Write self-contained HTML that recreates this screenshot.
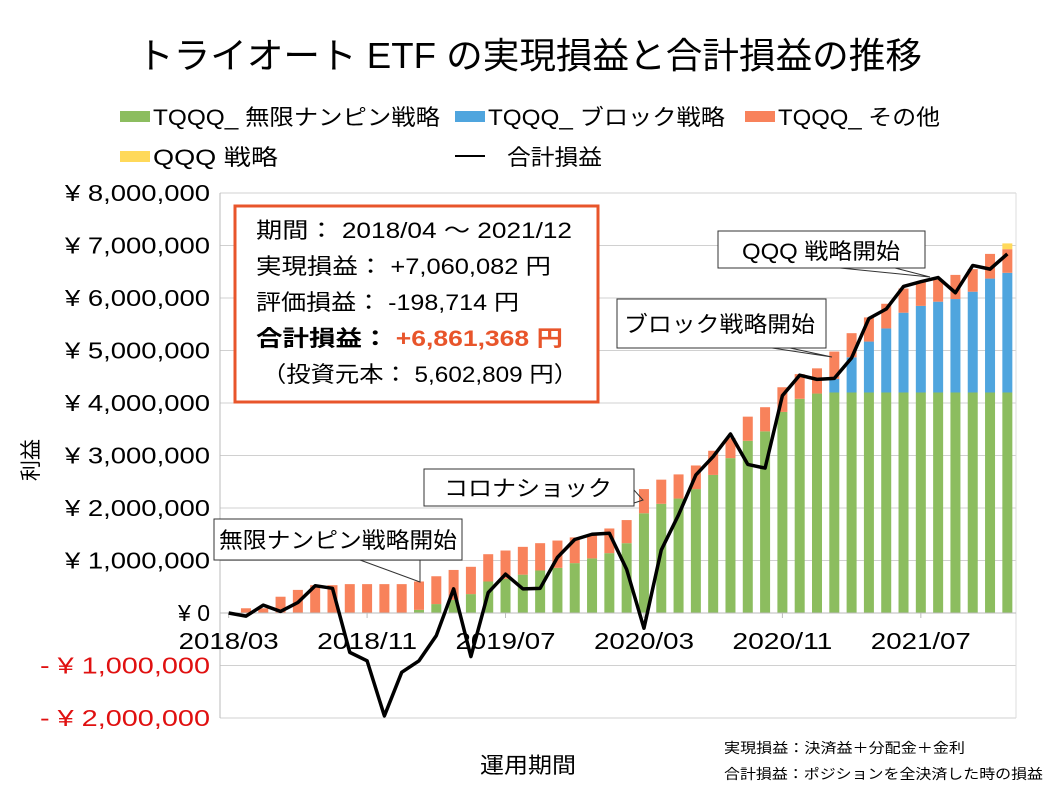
<!DOCTYPE html>
<html><head><meta charset="utf-8"><style>
html,body{margin:0;padding:0;background:#fff;}
svg{display:block;font-family:"Liberation Sans","Noto Sans CJK JP",sans-serif;}
</style></head><body>
<svg id="chart" width="1058" height="794" viewBox="0 0 1058 794" xmlns="http://www.w3.org/2000/svg">
<text x="137" y="68" font-size="36" textLength="785" lengthAdjust="spacingAndGlyphs" fill="#000">トライオート ETF の実現損益と合計損益の推移</text>
<g>
  <g><rect x="120" y="111" width="30" height="11" fill="#8CBD5F"/><text x="153" y="125" font-size="22" textLength="287" lengthAdjust="spacingAndGlyphs">TQQQ_ 無限ナンピン戦略</text></g>
  <g><rect x="455" y="111" width="30" height="11" fill="#4FA5DE"/><text x="488" y="125" font-size="22" textLength="237" lengthAdjust="spacingAndGlyphs">TQQQ_ ブロック戦略</text></g>
  <g><rect x="745" y="111" width="30" height="11" fill="#F8825B"/><text x="778" y="125" font-size="22" textLength="162" lengthAdjust="spacingAndGlyphs">TQQQ_ その他</text></g>
  <g><rect x="120" y="151" width="30" height="11" fill="#FFD95A"/><text x="153" y="165" font-size="22" textLength="125" lengthAdjust="spacingAndGlyphs">QQQ 戦略</text></g>
  <g><line x1="455" y1="156" x2="485" y2="156" stroke="#000" stroke-width="2"/><text x="507" y="165" font-size="22" textLength="95" lengthAdjust="spacingAndGlyphs">合計損益</text></g>
</g>
<g id="grid"></g>
<g id="yticks"></g>
<g id="bars"></g>
<g id="xticks"></g>
<g id="line"></g>
<text x="38" y="460" font-size="21" text-anchor="middle" transform="rotate(-90 38 460)">利益</text>
<text x="480" y="773" font-size="22" textLength="96" lengthAdjust="spacingAndGlyphs">運用期間</text>
<text x="724" y="753" font-size="14" textLength="241" lengthAdjust="spacingAndGlyphs">実現損益：決済益＋分配金＋金利</text>
<text x="724" y="779" font-size="14" textLength="319" lengthAdjust="spacingAndGlyphs">合計損益：ポジションを全決済した時の損益</text>
<g>
  <rect x="235" y="206" width="363" height="196" fill="#fff" stroke="#E8552B" stroke-width="3"/>
  <text x="256" y="238" font-size="22" textLength="316" lengthAdjust="spacingAndGlyphs">期間： 2018/04 ～ 2021/12</text>
  <text x="256" y="274" font-size="22" textLength="295" lengthAdjust="spacingAndGlyphs">実現損益： +7,060,082 円</text>
  <text x="256" y="310" font-size="22" textLength="263" lengthAdjust="spacingAndGlyphs">評価損益： -198,714 円</text>
  <text x="256" y="346" font-size="22" font-weight="bold" textLength="307" lengthAdjust="spacingAndGlyphs">合計損益： <tspan fill="#E8552B">+6,861,368 円</tspan></text>
  <text x="262" y="382" font-size="22" textLength="316" lengthAdjust="spacingAndGlyphs">（投資元本： 5,602,809 円）</text>
</g>
<g id="callouts">
  <g><polyline points="360,560 420,582 420,560" fill="none" stroke="#333" stroke-width="1"/><rect x="214" y="519" width="248" height="41" fill="#fff" stroke="#333"/><text x="219" y="548" font-size="22" textLength="238" lengthAdjust="spacingAndGlyphs">無限ナンピン戦略開始</text></g>
  <g><polyline points="634,490 643,500 634,503" fill="none" stroke="#333"/><rect x="424" y="469" width="210" height="37" fill="#fff" stroke="#333"/><text x="444" y="496" font-size="22" textLength="168" lengthAdjust="spacingAndGlyphs">コロナショック</text></g>
  <g><polyline points="790,348 832,357 772,348" fill="none" stroke="#333"/><rect x="617" y="299" width="209" height="49" fill="#fff" stroke="#333"/><text x="624" y="332" font-size="22" textLength="191" lengthAdjust="spacingAndGlyphs">ブロック戦略開始</text></g>
  <g><polyline points="895,268 930,277 840,268" fill="none" stroke="#333"/><rect x="718" y="231" width="207" height="37" fill="#fff" stroke="#333"/><text x="742" y="259" font-size="22" textLength="158" lengthAdjust="spacingAndGlyphs">QQQ 戦略開始</text></g>
</g>
</svg>
<script>
const labels = ["2018/03","2018/11","2019/07","2020/03","2020/11","2021/07"];
const labelIdx = [0,8,16,24,32,40];
const yTicks = [8,7,6,5,4,3,2,1,0,-1,-2];
const yTickLabels = ["¥ 8,000,000","¥ 7,000,000","¥ 6,000,000","¥ 5,000,000","¥ 4,000,000","¥ 3,000,000","¥ 2,000,000","¥ 1,000,000","¥ 0","- ¥ 1,000,000","- ¥ 2,000,000"];
// values in millions of yen, 46 months 2018/03 .. 2021/12
const nanpin = [0,0,0,0,0,0,0,0,0,0,0,0.06,0.17,0.25,0.36,0.60,0.65,0.73,0.81,0.86,0.95,1.04,1.14,1.33,1.90,2.08,2.18,2.36,2.63,2.95,3.28,3.46,3.83,4.08,4.18,4.20,4.20,4.20,4.20,4.20,4.20,4.20,4.20,4.20,4.20,4.20];
const block = [0,0,0,0,0,0,0,0,0,0,0,0,0,0,0,0,0,0,0,0,0,0,0,0,0,0,0,0,0,0,0,0,0,0,0,0.26,0.67,0.97,1.22,1.52,1.65,1.73,1.78,1.92,2.17,2.28];
const other = [0,0.09,0.09,0.31,0.44,0.53,0.53,0.55,0.55,0.55,0.55,0.54,0.53,0.57,0.52,0.52,0.54,0.53,0.52,0.52,0.49,0.46,0.47,0.44,0.46,0.46,0.46,0.45,0.46,0.38,0.46,0.46,0.47,0.47,0.48,0.52,0.46,0.46,0.47,0.46,0.46,0.42,0.46,0.43,0.47,0.45];
const qqq = [0,0,0,0,0,0,0,0,0,0,0,0,0,0,0,0,0,0,0,0,0,0,0,0,0,0,0,0,0,0,0,0,0,0,0,0,0,0,0,0,0,0,0,0,0,0.11];
const total = [0,-0.06,0.15,0.03,0.20,0.52,0.47,-0.75,-0.91,-1.96,-1.13,-0.91,-0.43,0.46,-0.83,0.39,0.74,0.46,0.47,1.06,1.40,1.50,1.52,0.83,-0.29,1.20,1.87,2.63,2.98,3.41,2.83,2.76,4.14,4.53,4.45,4.47,4.86,5.61,5.79,6.22,6.31,6.39,6.10,6.62,6.55,6.84];

const NS="http://www.w3.org/2000/svg";
const L=220,R=1016,N=total.length,cw=(R-L)/N;
const X=i=>L+cw*(i+0.5);
const Y=v=>613-v*52.5;
function mk(t,a,p){const e=document.createElementNS(NS,t);for(const k in a)e.setAttribute(k,a[k]);p.appendChild(e);return e;}
const grid=document.getElementById('grid'),yt=document.getElementById('yticks'),bars=document.getElementById('bars'),xt=document.getElementById('xticks'),ln=document.getElementById('line');
yTicks.forEach((v,i)=>{
  const g=mk('line',{x1:L,x2:R,y1:Y(v),y2:Y(v),stroke:'#d0d0d0','stroke-width':1},grid);
  
  
  const s=yTickLabels[i];
  const attrs={x:210,y:Y(v)+8,'text-anchor':'end','font-size':23,fill:v<0?'#E01010':'#000'};
  if(s.length>5){attrs.textLength=(v<0?170:145);attrs.lengthAdjust='spacingAndGlyphs';}
  const t=mk('text',attrs,yt);
  t.textContent=s;
  
  
});
const ax=mk('line',{x1:L,x2:L,y1:Y(8),y2:Y(-2),stroke:'#bbb'},grid);


const ax2=mk('line',{x1:R,x2:R,y1:Y(8),y2:Y(-2),stroke:'#ddd'},grid);


const series=[[nanpin,'#8CBD5F','bar-nanpin'],[block,'#4FA5DE','bar-block'],[other,'#F8825B','bar-other'],[qqq,'#FFD95A','bar-qqq']];
for(let i=0;i<N;i++){
  let base=0;
  series.forEach(([arr,col,nm])=>{
    const v=arr[i];
    if(v>0){
      const r=mk('rect',{x:X(i)-5,width:10,y:Y(base+v),height:Y(base)-Y(base+v),fill:col},bars);
      
      
    }
    base+=v;
  });
}
labels.forEach((s,k)=>{
  const x=X(labelIdx[k]);
  mk('line',{x1:x,x2:x,y1:613,y2:618,stroke:'#bbb'},xt);
  const t=mk('text',{x:x-50,y:649,'font-size':23,textLength:100,lengthAdjust:'spacingAndGlyphs'},xt);
  t.textContent=s;
  
  
});
const zl=mk('line',{x1:L,x2:R,y1:613,y2:613,stroke:'#bbb'},xt);


const pl=mk('polyline',{points:total.map((v,i)=>X(i)+','+Y(v)).join(' '),fill:'none',stroke:'#000','stroke-width':3.5,'stroke-linejoin':'round'},ln);


</script>
</body></html>
